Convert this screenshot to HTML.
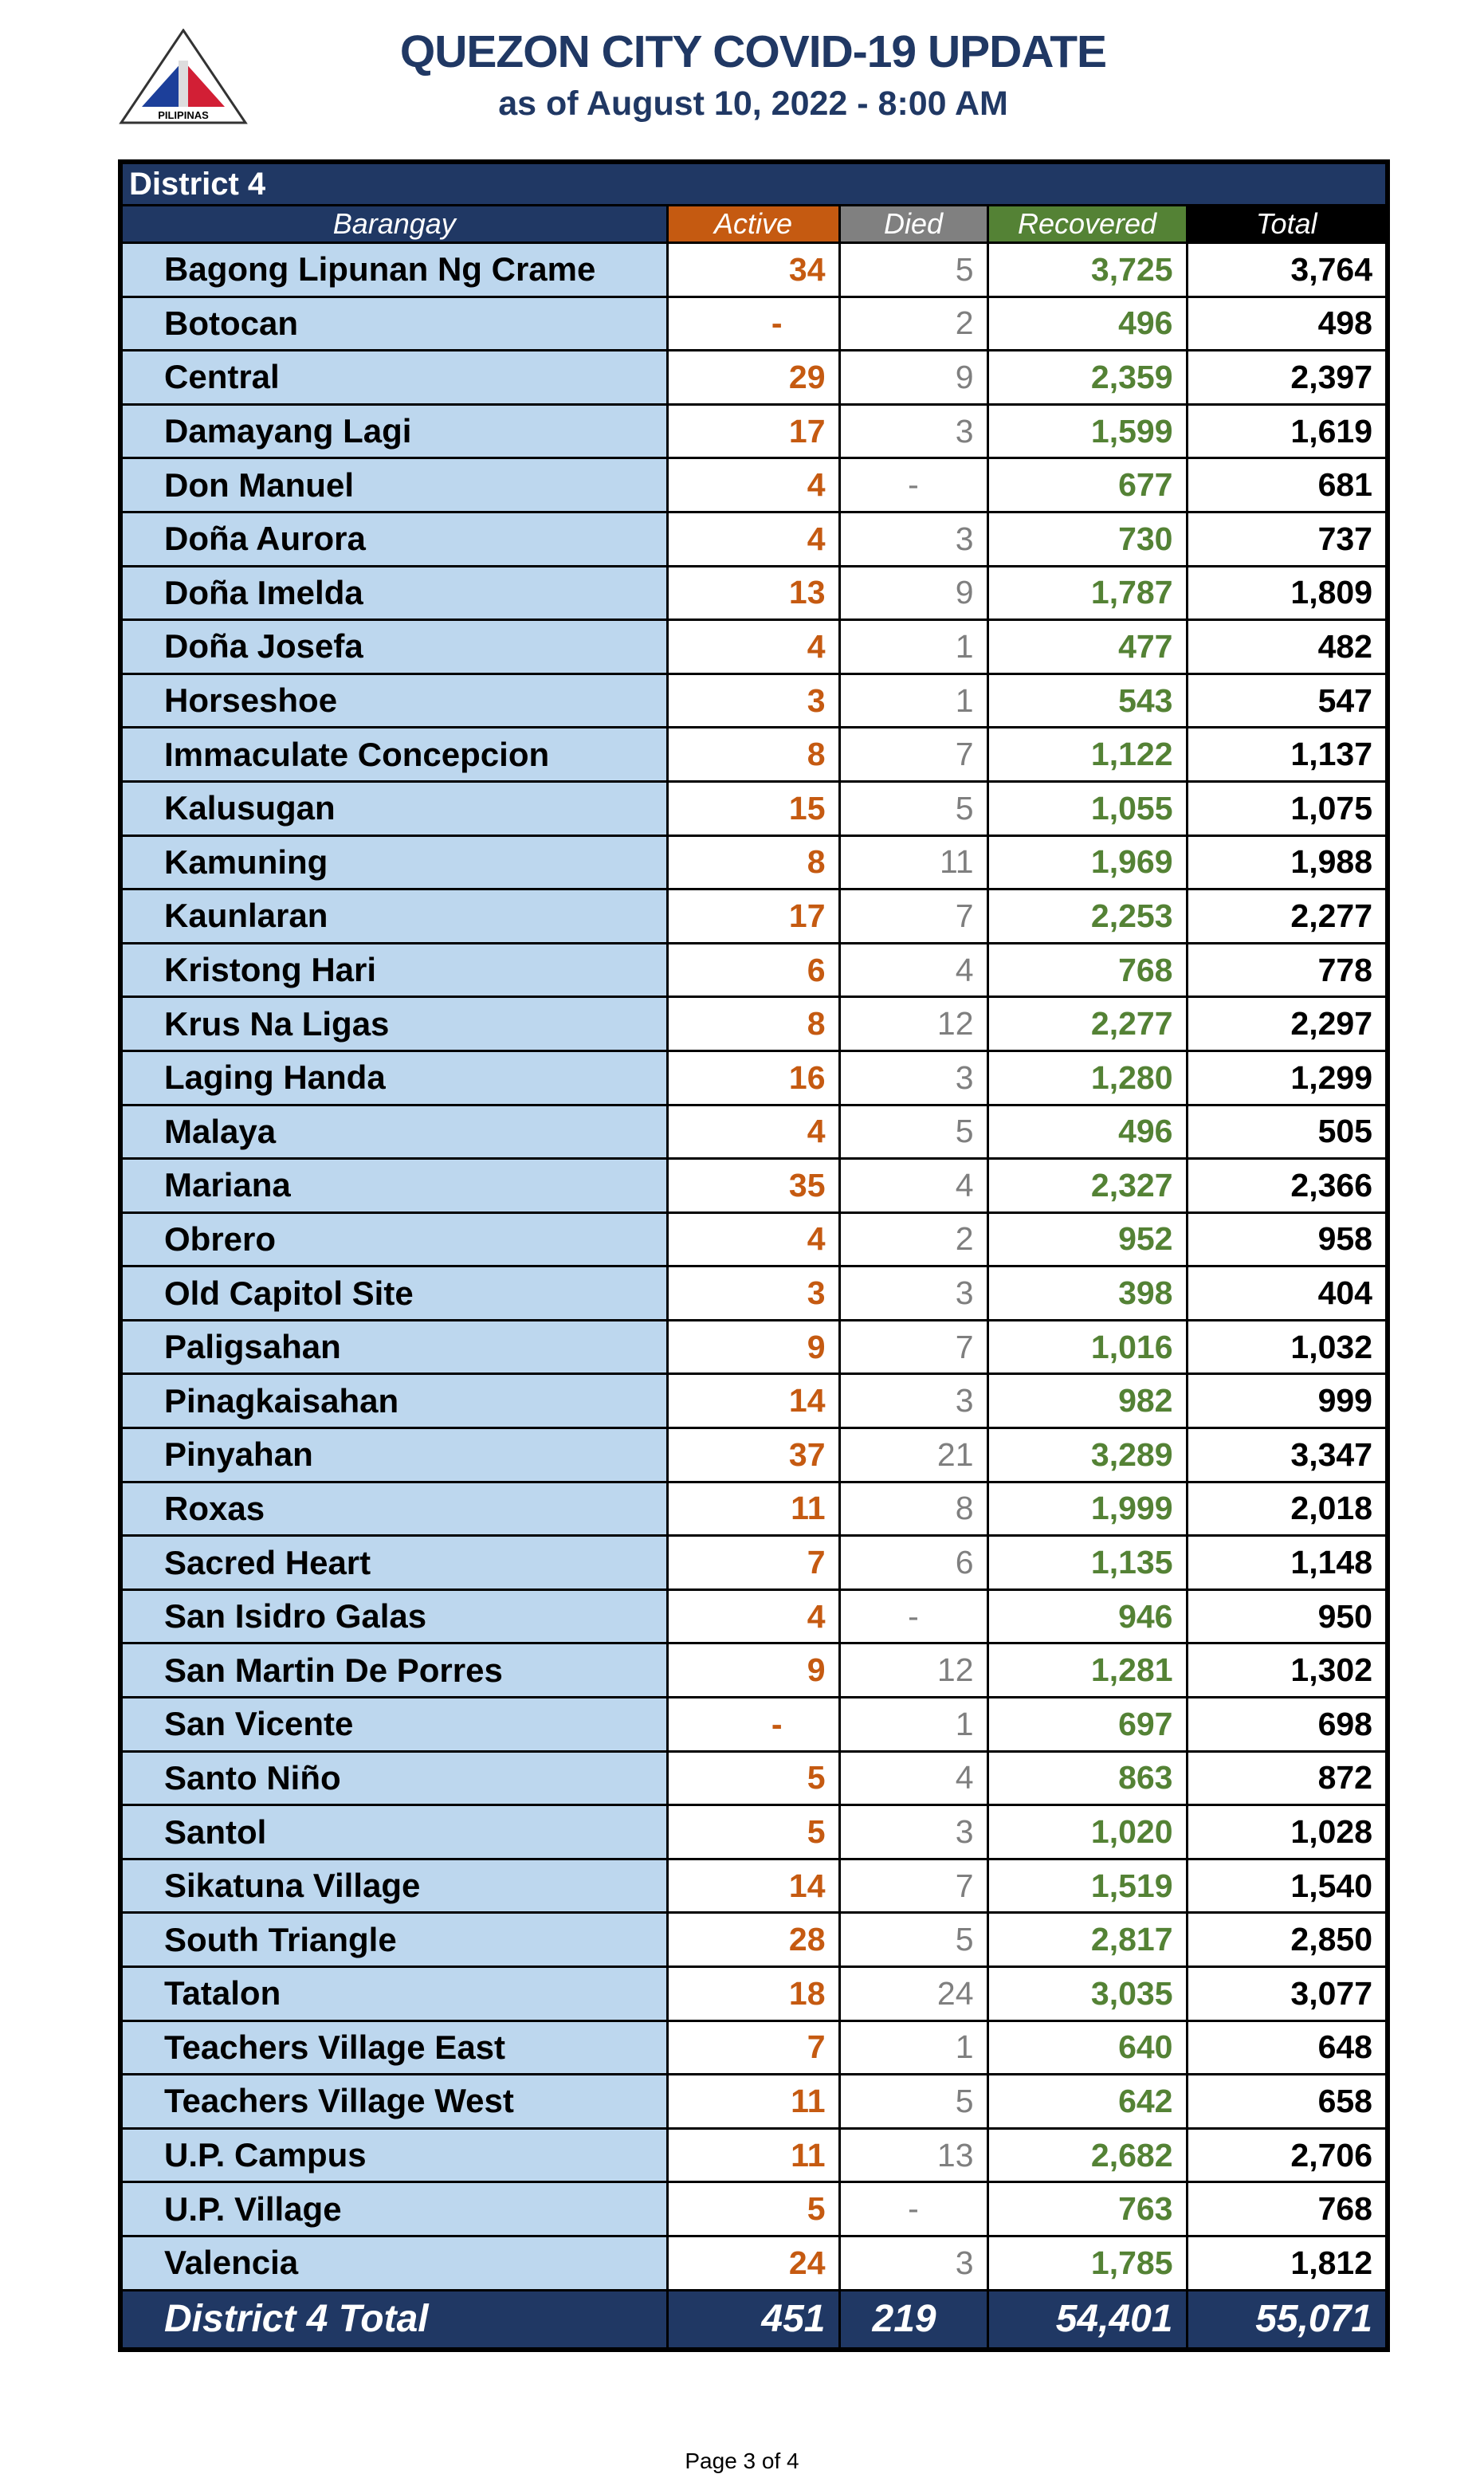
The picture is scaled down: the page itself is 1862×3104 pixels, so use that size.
<!DOCTYPE html>
<html><head><meta charset="utf-8"><style>
body{margin:0;width:1862px;height:3094px;background:#fff;position:relative;font-family:"Liberation Sans",sans-serif}
.t1{position:absolute;left:0;width:1890px;top:32px;text-align:center;font-weight:bold;font-size:57px;color:#203864;letter-spacing:-1px}
.t2{position:absolute;left:0;width:1890px;top:106px;text-align:center;font-weight:bold;font-size:43px;color:#203864}
table{position:absolute;left:148px;top:200px;width:1590px;border-collapse:collapse;border:6px solid #000;table-layout:fixed}
td{border:3px solid #000;padding:0 16px;font-weight:bold;font-size:41px;white-space:nowrap;overflow:hidden;line-height:1}
tr.d td{height:64.6px;box-sizing:content-box;padding-top:0;padding-bottom:0}
td.n{background:#BDD7EE;padding-left:52px;color:#000;font-size:42px}
td.a{text-align:right;color:#C55A11}
td.x{text-align:right;color:#7f7f7f;font-weight:normal}
td.r{text-align:right;color:#548235}
td.o{text-align:right;color:#000}
.dist td{background:#203864;color:#fff;height:50px;font-size:40px;padding-left:8px;border-bottom:3px solid #000}
.hd td{height:44px;color:#fff;font-style:italic;font-size:36px;text-align:center;font-weight:normal}
.tot td{background:#203864;color:#fff;height:70px;font-style:italic;font-size:48px;text-align:right}
.foot{position:absolute;top:3072px;left:0;width:1862px;text-align:center;font-size:28px}
</style></head><body>
<svg style="position:absolute;left:148px;top:36px" width="164" height="122" viewBox="0 0 164 122">
<polygon points="82,2 160,118 4,118" fill="#fff" stroke="#333" stroke-width="3"/>
<polygon points="82,40 82,98 30,98" fill="#1c3f9a"/>
<polygon points="82,40 134,98 82,98" fill="#d21f35"/>
<rect x="76" y="40" width="12" height="58" fill="#ddd"/>
<text x="82" y="113" font-size="13" text-anchor="middle" font-weight="bold" font-family="Liberation Sans">PILIPINAS</text>
</svg>
<div class="t1">QUEZON CITY COVID-19 UPDATE</div>
<div class="t2">as of August 10, 2022 - 8:00 AM</div>
<table>
<colgroup><col style="width:686px"><col style="width:216px"><col style="width:186px"><col style="width:250px"><col style="width:252px"></colgroup>
<tr class="dist"><td colspan="5"><b>District 4</b></td></tr>
<tr class="hd"><td style="background:#203864">Barangay</td><td style="background:#C55A11">Active</td><td style="background:#808080">Died</td><td style="background:#548235">Recovered</td><td style="background:#000">Total</td></tr>
<tr class="d"><td class="n">Bagong Lipunan Ng Crame</td><td class="a">34</td><td class="x">5</td><td class="r">3,725</td><td class="o">3,764</td></tr>
<tr class="d"><td class="n">Botocan</td><td class="a" style="padding-right:70px">-</td><td class="x">2</td><td class="r">496</td><td class="o">498</td></tr>
<tr class="d"><td class="n">Central</td><td class="a">29</td><td class="x">9</td><td class="r">2,359</td><td class="o">2,397</td></tr>
<tr class="d"><td class="n">Damayang Lagi</td><td class="a">17</td><td class="x">3</td><td class="r">1,599</td><td class="o">1,619</td></tr>
<tr class="d"><td class="n">Don Manuel</td><td class="a">4</td><td class="x" style="text-align:center">-</td><td class="r">677</td><td class="o">681</td></tr>
<tr class="d"><td class="n">Doña Aurora</td><td class="a">4</td><td class="x">3</td><td class="r">730</td><td class="o">737</td></tr>
<tr class="d"><td class="n">Doña Imelda</td><td class="a">13</td><td class="x">9</td><td class="r">1,787</td><td class="o">1,809</td></tr>
<tr class="d"><td class="n">Doña Josefa</td><td class="a">4</td><td class="x">1</td><td class="r">477</td><td class="o">482</td></tr>
<tr class="d"><td class="n">Horseshoe</td><td class="a">3</td><td class="x">1</td><td class="r">543</td><td class="o">547</td></tr>
<tr class="d"><td class="n">Immaculate Concepcion</td><td class="a">8</td><td class="x">7</td><td class="r">1,122</td><td class="o">1,137</td></tr>
<tr class="d"><td class="n">Kalusugan</td><td class="a">15</td><td class="x">5</td><td class="r">1,055</td><td class="o">1,075</td></tr>
<tr class="d"><td class="n">Kamuning</td><td class="a">8</td><td class="x">11</td><td class="r">1,969</td><td class="o">1,988</td></tr>
<tr class="d"><td class="n">Kaunlaran</td><td class="a">17</td><td class="x">7</td><td class="r">2,253</td><td class="o">2,277</td></tr>
<tr class="d"><td class="n">Kristong Hari</td><td class="a">6</td><td class="x">4</td><td class="r">768</td><td class="o">778</td></tr>
<tr class="d"><td class="n">Krus Na Ligas</td><td class="a">8</td><td class="x">12</td><td class="r">2,277</td><td class="o">2,297</td></tr>
<tr class="d"><td class="n">Laging Handa</td><td class="a">16</td><td class="x">3</td><td class="r">1,280</td><td class="o">1,299</td></tr>
<tr class="d"><td class="n">Malaya</td><td class="a">4</td><td class="x">5</td><td class="r">496</td><td class="o">505</td></tr>
<tr class="d"><td class="n">Mariana</td><td class="a">35</td><td class="x">4</td><td class="r">2,327</td><td class="o">2,366</td></tr>
<tr class="d"><td class="n">Obrero</td><td class="a">4</td><td class="x">2</td><td class="r">952</td><td class="o">958</td></tr>
<tr class="d"><td class="n">Old Capitol Site</td><td class="a">3</td><td class="x">3</td><td class="r">398</td><td class="o">404</td></tr>
<tr class="d"><td class="n">Paligsahan</td><td class="a">9</td><td class="x">7</td><td class="r">1,016</td><td class="o">1,032</td></tr>
<tr class="d"><td class="n">Pinagkaisahan</td><td class="a">14</td><td class="x">3</td><td class="r">982</td><td class="o">999</td></tr>
<tr class="d"><td class="n">Pinyahan</td><td class="a">37</td><td class="x">21</td><td class="r">3,289</td><td class="o">3,347</td></tr>
<tr class="d"><td class="n">Roxas</td><td class="a">11</td><td class="x">8</td><td class="r">1,999</td><td class="o">2,018</td></tr>
<tr class="d"><td class="n">Sacred Heart</td><td class="a">7</td><td class="x">6</td><td class="r">1,135</td><td class="o">1,148</td></tr>
<tr class="d"><td class="n">San Isidro Galas</td><td class="a">4</td><td class="x" style="text-align:center">-</td><td class="r">946</td><td class="o">950</td></tr>
<tr class="d"><td class="n">San Martin De Porres</td><td class="a">9</td><td class="x">12</td><td class="r">1,281</td><td class="o">1,302</td></tr>
<tr class="d"><td class="n">San Vicente</td><td class="a" style="padding-right:70px">-</td><td class="x">1</td><td class="r">697</td><td class="o">698</td></tr>
<tr class="d"><td class="n">Santo Niño</td><td class="a">5</td><td class="x">4</td><td class="r">863</td><td class="o">872</td></tr>
<tr class="d"><td class="n">Santol</td><td class="a">5</td><td class="x">3</td><td class="r">1,020</td><td class="o">1,028</td></tr>
<tr class="d"><td class="n">Sikatuna Village</td><td class="a">14</td><td class="x">7</td><td class="r">1,519</td><td class="o">1,540</td></tr>
<tr class="d"><td class="n">South Triangle</td><td class="a">28</td><td class="x">5</td><td class="r">2,817</td><td class="o">2,850</td></tr>
<tr class="d"><td class="n">Tatalon</td><td class="a">18</td><td class="x">24</td><td class="r">3,035</td><td class="o">3,077</td></tr>
<tr class="d"><td class="n">Teachers Village East</td><td class="a">7</td><td class="x">1</td><td class="r">640</td><td class="o">648</td></tr>
<tr class="d"><td class="n">Teachers Village West</td><td class="a">11</td><td class="x">5</td><td class="r">642</td><td class="o">658</td></tr>
<tr class="d"><td class="n">U.P. Campus</td><td class="a">11</td><td class="x">13</td><td class="r">2,682</td><td class="o">2,706</td></tr>
<tr class="d"><td class="n">U.P. Village</td><td class="a">5</td><td class="x" style="text-align:center">-</td><td class="r">763</td><td class="o">768</td></tr>
<tr class="d"><td class="n">Valencia</td><td class="a">24</td><td class="x">3</td><td class="r">1,785</td><td class="o">1,812</td></tr>
<tr class="tot"><td style="text-align:left;padding-left:52px">District 4 Total</td><td>451</td><td style="text-align:left;padding-left:40px">219</td><td>54,401</td><td>55,071</td></tr>
</table>
<div class="foot">Page 3 of 4</div>
</body></html>
